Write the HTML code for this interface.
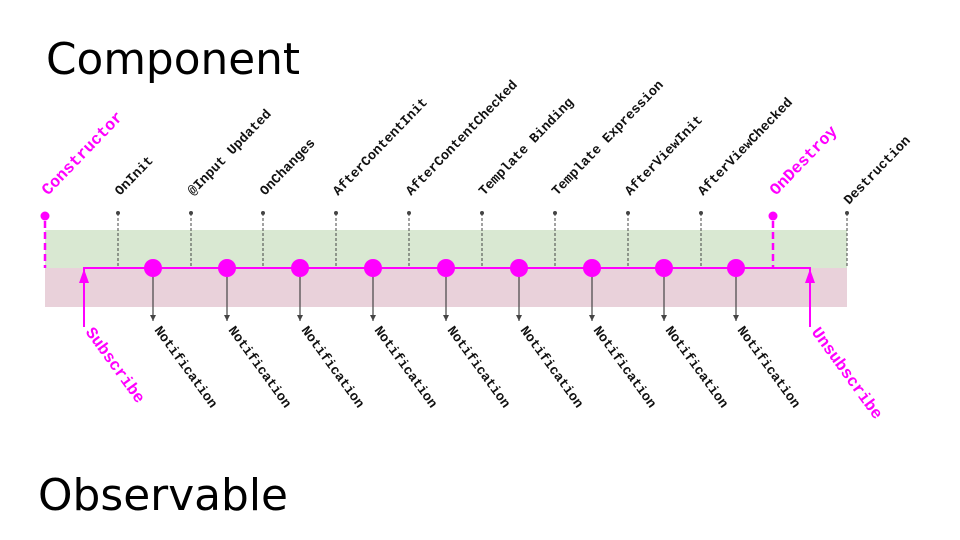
<!DOCTYPE html>
<html><head><meta charset="utf-8"><style>body{margin:0;background:#fff}svg{display:block}</style></head>
<body>
<svg width="960" height="540" viewBox="0 0 960 540" xmlns="http://www.w3.org/2000/svg">
<defs>
<marker id="ah" markerWidth="7" markerHeight="7" refX="6" refY="3" orient="auto" markerUnits="userSpaceOnUse"><path d="M0,0 L6,3 L0,6 z" fill="#444"/></marker>
</defs>
<text x="46" y="74" font-family="DejaVu Sans, Liberation Sans, sans-serif" font-size="44" textLength="254" lengthAdjust="spacingAndGlyphs">Component</text>
<text x="38" y="510" font-family="DejaVu Sans, Liberation Sans, sans-serif" font-size="44" textLength="250" lengthAdjust="spacingAndGlyphs">Observable</text>
<rect x="45" y="230" width="802" height="38" fill="#d9e8d2"/>
<rect x="45" y="268" width="802" height="39" fill="#e9d1da"/>
<g stroke="#444" stroke-width="1" stroke-dasharray="3,2">
<line x1="118" y1="213" x2="118" y2="268"/><line x1="191" y1="213" x2="191" y2="268"/>
<line x1="263" y1="213" x2="263" y2="268"/><line x1="336" y1="213" x2="336" y2="268"/>
<line x1="409" y1="213" x2="409" y2="268"/><line x1="482" y1="213" x2="482" y2="268"/>
<line x1="555" y1="213" x2="555" y2="268"/><line x1="628" y1="213" x2="628" y2="268"/>
<line x1="701" y1="213" x2="701" y2="268"/><line x1="847" y1="213" x2="847" y2="268"/>
</g>
<g fill="#444">
<circle cx="118" cy="213" r="2"/><circle cx="191" cy="213" r="2"/><circle cx="263" cy="213" r="2"/><circle cx="336" cy="213" r="2"/><circle cx="409" cy="213" r="2"/><circle cx="482" cy="213" r="2"/><circle cx="555" cy="213" r="2"/><circle cx="628" cy="213" r="2"/><circle cx="701" cy="213" r="2"/><circle cx="847" cy="213" r="2"/>
</g>
<g stroke="#f0f" stroke-width="2.5" stroke-dasharray="7,4">
<line x1="45" y1="221" x2="45" y2="268"/><line x1="773" y1="221" x2="773" y2="268"/>
</g>
<circle cx="45" cy="216" r="4.5" fill="#f0f"/><circle cx="773" cy="216" r="4.5" fill="#f0f"/>
<g stroke="#444" stroke-width="1.2" marker-end="url(#ah)">
<line x1="153" y1="268" x2="153" y2="321"/><line x1="227" y1="268" x2="227" y2="321"/><line x1="300" y1="268" x2="300" y2="321"/><line x1="373" y1="268" x2="373" y2="321"/><line x1="446" y1="268" x2="446" y2="321"/><line x1="519" y1="268" x2="519" y2="321"/><line x1="592" y1="268" x2="592" y2="321"/><line x1="664" y1="268" x2="664" y2="321"/><line x1="736" y1="268" x2="736" y2="321"/>
</g>
<polyline points="84,327 84,268 810,268 810,327" fill="none" stroke="#f0f" stroke-width="2"/>
<path d="M79,283 L84,269 L89,283 z" fill="#f0f"/><path d="M805,283 L810,269 L815,283 z" fill="#f0f"/>
<g fill="#f0f">
<circle cx="153" cy="268" r="9"/><circle cx="227" cy="268" r="9"/><circle cx="300" cy="268" r="9"/><circle cx="373" cy="268" r="9"/><circle cx="446" cy="268" r="9"/><circle cx="519" cy="268" r="9"/><circle cx="592" cy="268" r="9"/><circle cx="664" cy="268" r="9"/><circle cx="736" cy="268" r="9"/>
</g>
<g font-family="Liberation Mono, monospace" font-weight="bold" font-size="13.5" fill="#111">
<text transform="translate(120,196) rotate(-46)">OnInit</text>
<text transform="translate(193,196) rotate(-46)">@Input Updated</text>
<text transform="translate(265,196) rotate(-46)">OnChanges</text>
<text transform="translate(338,196) rotate(-46)">AfterContentInit</text>
<text transform="translate(411,196) rotate(-46)">AfterContentChecked</text>
<text transform="translate(484,196) rotate(-46)">Template Binding</text>
<text transform="translate(557,196) rotate(-46)">Template Expression</text>
<text transform="translate(630,196) rotate(-46)">AfterViewInit</text>
<text transform="translate(703,196) rotate(-46)">AfterViewChecked</text>
<text transform="translate(849,205) rotate(-46)">Destruction</text>
</g>
<g font-family="Liberation Mono, monospace" font-weight="bold" font-size="16.5" fill="#f0f">
<text transform="translate(48,196) rotate(-46)">Constructor</text>
<text transform="translate(776,196) rotate(-46)">OnDestroy</text>
<text transform="translate(85,332) rotate(54)">Subscribe</text>
<text transform="translate(811,332) rotate(54)">Unsubscribe</text>
</g>
<g font-family="Liberation Mono, monospace" font-weight="bold" font-size="13.5" fill="#111">
<text transform="translate(154,330) rotate(54)">Notification</text>
<text transform="translate(228,330) rotate(54)">Notification</text>
<text transform="translate(301,330) rotate(54)">Notification</text>
<text transform="translate(374,330) rotate(54)">Notification</text>
<text transform="translate(447,330) rotate(54)">Notification</text>
<text transform="translate(520,330) rotate(54)">Notification</text>
<text transform="translate(593,330) rotate(54)">Notification</text>
<text transform="translate(665,330) rotate(54)">Notification</text>
<text transform="translate(737,330) rotate(54)">Notification</text>
</g>
</svg>
</body></html>
